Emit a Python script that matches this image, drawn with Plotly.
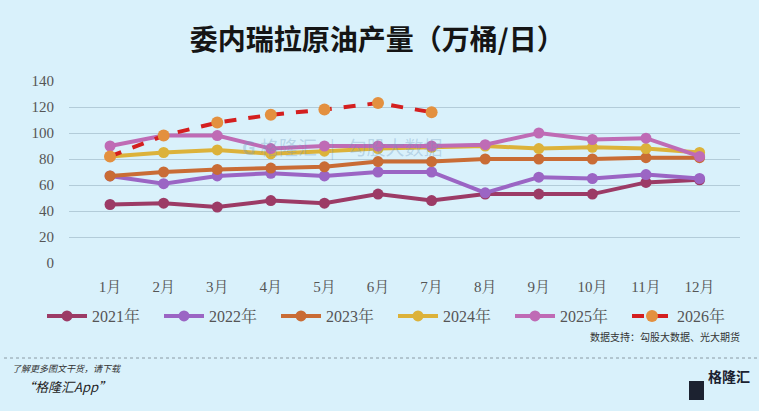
import plotly.graph_objs as go

# 月份
months = ['1月', '2月', '3月', '4月', '5月', '6月', '7月', '8月', '9月', '10月', '11月', '12月']

# 各年产量（万桶/日）
y2021 = [45, 46, 43, 48, 46, 53, 48, 53, 53, 53, 62, 64]
y2022 = [67, 61, 67, 69, 67, 70, 70, 54, 66, 65, 68, 65]
y2023 = [67, 70, 72, 73, 74, 78, 78, 80, 80, 80, 81, 81]
y2024 = [82, 85, 87, 84, 86, 88, 89, 90, 88, 89, 88, 85]
y2025 = [90, 98, 98, 88, 90, 90, 90, 91, 100, 95, 96, 82]
y2026 = [82, 98, 108, 114, 118, 123, 116]

series = [
    ('2021年', y2021, '#9c3b66'),
    ('2022年', y2022, '#9b65c4'),
    ('2023年', y2023, '#c96c35'),
    ('2024年', y2024, '#dcb23a'),
    ('2025年', y2025, '#bf6bb5'),
]

bg = '#d9f1fb'
serif = 'Liberation Serif, Times New Roman, Noto Serif CJK SC, Noto Sans CJK SC'

data = []
for name, vals, col in series:
    data.append(go.Scatter(x=months, y=vals, mode='lines+markers', name=name,
                           line=dict(color=col, width=4),
                           marker=dict(color=col, size=11)))
data.append(go.Scatter(x=months[:len(y2026)], y=y2026, mode='lines+markers', name='2026年',
                       line=dict(color='#d41f1f', width=4, dash='dash'),
                       marker=dict(color='#e3903f', size=12)))

fig = go.Figure(data=data)

# Pixel-Helfer für Annotationen (Plotbereich 69..740 x 81..263)
def px(x):
    return (x - 69) / 671

def py(y):
    return (263 - y) / 182

fig.update_layout(
    width=759, height=411,
    paper_bgcolor=bg, plot_bgcolor=bg,
    margin=dict(l=69, r=19, t=81, b=148, autoexpand=False),
    title=dict(text='<b>委内瑞拉原油产量（万桶/日）</b>', x=0.497, xanchor='center',
               y=1 - 40 / 411, yanchor='middle',
               font=dict(family='Noto Sans CJK SC', size=28, color='#151515')),
    font=dict(family=serif, color='#555555'),
    xaxis=dict(showgrid=False, showline=False, ticks='', tickfont=dict(size=15),
               ticklabelstandoff=13),
    yaxis=dict(range=[0, 140], dtick=20, gridcolor='#b3ccd9', gridwidth=1.2,
               zeroline=False, showline=False, tickfont=dict(size=15),
               ticklabelstandoff=14),
    showlegend=True,
    legend=dict(orientation='h', xref='paper', yref='paper',
                x=px(42), xanchor='left', y=py(316), yanchor='middle',
                bgcolor='rgba(0,0,0,0)', font=dict(family=serif, size=16, color='#555555'),
                entrywidth=62, entrywidthmode='pixels', itemwidth=40),
    shapes=[dict(type='line', xref='paper', yref='paper',
                 x0=px(4), x1=px(759), y0=py(358), y1=py(358),
                 line=dict(color='#8a9aa4', width=1, dash='dot'))],
    annotations=[
        dict(text='<b>G</b> 格隆汇   |   勾股大数据', xref='paper', yref='paper', x=px(342), y=py(131),
             showarrow=False, font=dict(family='Noto Sans CJK SC', size=19,
                                        color='rgba(110,150,190,0.33)')),
        dict(text='数据支持：勾股大数据、光大期货', xref='paper', yref='paper',
             x=px(742), y=py(346), xanchor='right', showarrow=False,
             font=dict(family='Noto Sans CJK SC', size=10, color='#333333')),
        dict(text='<i>了解更多图文干货，请下载</i>', xref='paper', yref='paper',
             x=px(10), y=py(377), xanchor='left', showarrow=False,
             font=dict(family='Noto Sans CJK SC', size=9, color='#333333')),
        dict(text='<i>“格隆汇App”</i>', xref='paper', yref='paper',
             x=px(20), y=py(398), xanchor='left', showarrow=False,
             font=dict(family='Noto Sans CJK SC', size=13, color='#222222')),
        dict(text='<b>格隆汇</b>', xref='paper', yref='paper',
             x=px(706), y=py(388), xanchor='left', showarrow=False,
             font=dict(family='Noto Sans CJK SC', size=14, color='#1c2230')),
    ],
)
fig.add_shape(type='rect', xref='paper', yref='paper',
              x0=px(689), x1=px(704), y0=py(400), y1=py(381),
              fillcolor='#1c2230', line=dict(width=0))

fig.write_html('out.html', config={'displayModeBar': False},
               post_script="document.body.style.margin='0';")
